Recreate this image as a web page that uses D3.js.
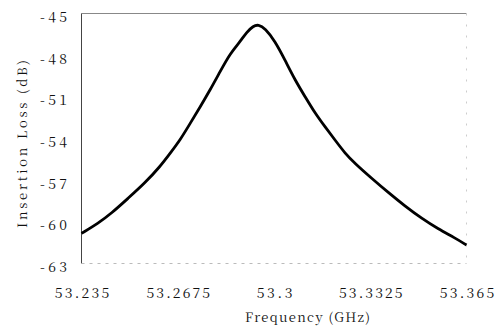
<!DOCTYPE html>
<html><head><meta charset="utf-8">
<script src="https://cdn.jsdelivr.net/npm/d3@7"></script>
<style>
html,body{margin:0;padding:0;background:#fff;}
</style></head>
<body><svg id="c" width="502" height="333"></svg>
<script>
const freq = [53.235, 53.2406, 53.2451, 53.2507, 53.2563, 53.2615, 53.2649, 53.2683, 53.2717, 53.2751, 53.2784, 53.2818, 53.2852, 53.2886, 53.2908, 53.2930, 53.2947, 53.2970, 53.3003, 53.3037, 53.3071, 53.3105, 53.3139, 53.3172, 53.3206, 53.3240, 53.3273, 53.3330, 53.3386, 53.3442, 53.3499, 53.3555, 53.3611, 53.365];
const loss = [-60.83, -60.11, -59.39, -58.31, -57.23, -56.03, -55.07, -54.11, -52.91, -51.71, -50.51, -49.18, -47.87, -47.02, -46.33, -45.90, -45.79, -46.07, -46.98, -48.35, -49.79, -50.99, -52.19, -53.15, -54.11, -55.07, -55.79, -56.87, -57.89, -58.86, -59.76, -60.52, -61.16, -61.67];
const xTicks = [53.235, 53.2675, 53.3, 53.3325, 53.365];
const xTickLabels = ["53.235", "53.2675", "53.3", "53.3325", "53.365"];
const yTicks = [-45, -48, -51, -54, -57, -60, -63];
const xTitle = "Frequency (GHz)";
const yTitle = "Insertion Loss (dB)";

const FONT = '"Noto Serif CJK JP","Liberation Serif",serif';
const svg = d3.select("#c");
const L = 81.5, R = 466.5, T = 13.5, B = 263.5;
const x = d3.scaleLinear().domain([53.235, 53.365]).range([L, R]);
const y = d3.scaleLinear().domain([-63, -45]).range([B, T]);

// frame
svg.append("line").attr("x1", L).attr("x2", R).attr("y1", T).attr("y2", T).attr("stroke", "#888").attr("stroke-width", 1);
svg.append("line").attr("x1", L).attr("x2", L).attr("y1", T).attr("y2", B).attr("stroke", "#444").attr("stroke-width", 1);
svg.append("line").attr("x1", L).attr("x2", R).attr("y1", B).attr("y2", B).attr("stroke", "#bbb").attr("stroke-width", 1).attr("stroke-dasharray", "3,5");
svg.append("line").attr("x1", R).attr("x2", R).attr("y1", T).attr("y2", B).attr("stroke", "#ccc").attr("stroke-width", 1).attr("stroke-dasharray", "2,9");

// x axis labels
const xAxis = d3.axisBottom(x).tickValues(xTicks).tickSize(0).tickFormat((d, i) => xTickLabels[i]);
const gx = svg.append("g").attr("transform", `translate(0,${B})`).call(xAxis);
gx.select(".domain").remove();
gx.selectAll("text")
  .attr("dy", null).attr("y", 34)
  .attr("textLength", d => xTickLabels[xTicks.indexOf(d)].length * 9.3 - 1.5)
  .attr("lengthAdjust", "spacing")
  .style("font-size", "14px").style("fill", "#111").style("font-family", FONT);

// y axis labels
const yAxis = d3.axisLeft(y).tickValues(yTicks).tickSize(0).tickFormat(d => String(d));
const gy = svg.append("g").attr("transform", `translate(${L},0)`).call(yAxis);
gy.select(".domain").remove();
gy.selectAll("text")
  .attr("x", -14.5).attr("dy", null).attr("y", 8)
  .attr("textLength", 27).attr("lengthAdjust", "spacing")
  .style("font-size", "14px").style("fill", "#111").style("font-family", FONT);

// titles
svg.append("text").attr("x", 307.5).attr("y", 322).attr("text-anchor", "middle")
  .attr("textLength", 125).attr("lengthAdjust", "spacing")
  .style("font-family", FONT).style("font-size", "13px").style("fill", "#111").text(xTitle);
svg.append("text").attr("transform", "translate(27,144) rotate(-90)").attr("text-anchor", "middle")
  .attr("textLength", 168).attr("lengthAdjust", "spacing")
  .style("font-family", FONT).style("font-size", "13px").style("fill", "#111").text(yTitle);

// curve
const data = freq.map((f, i) => [f, loss[i]]);
svg.append("path").datum(data)
  .attr("d", d3.line().x(d => x(d[0])).y(d => y(d[1])).curve(d3.curveBasis))
  .attr("fill", "none").attr("stroke", "#000").attr("stroke-width", 2.8).attr("stroke-linejoin", "round");
</script></body></html>
